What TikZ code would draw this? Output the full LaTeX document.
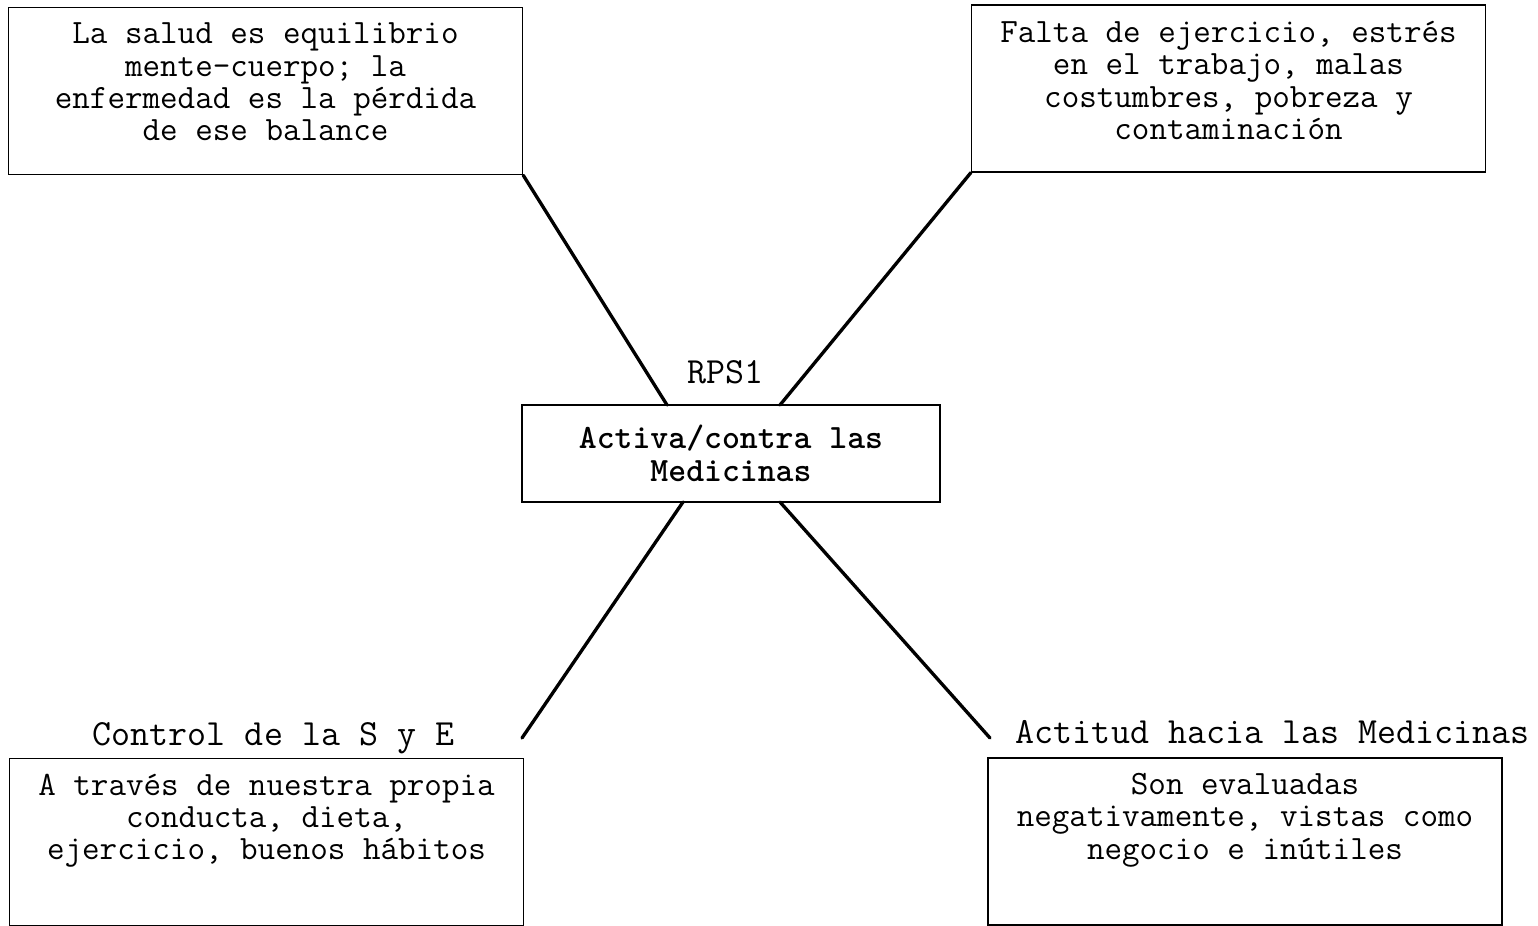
\documentclass[tikz,border=0pt]{standalone}
\usepackage{fontspec}
\usetikzlibrary{positioning}

\begin{document}
\begin{tikzpicture}[x=0.02cm, y=-0.02cm,
    box/.style={draw, line width=0.9pt, inner sep=0pt,
        minimum width=10.28cm, minimum height=3.34cm},
    boxtext/.style={inner sep=0pt, align=center,
        font=\ttfamily\fontsize{19.4}{18.3}\selectfont,
        execute at begin node=\strut},
    tag/.style={inner sep=0pt, anchor=base,
        font=\ttfamily\fontsize{21}{22}\selectfont},
    spoke/.style={draw, line width=1.9pt, line cap=round}
    ]
    \useasboundingbox (0,0) rectangle (1538,926);

    % Centre node
    \node[draw, line width=0.9pt, inner sep=0pt, minimum width=8.36cm,
        minimum height=1.94cm, align=center,
        font=\ttfamily\bfseries\fontsize{19.4}{18.7}\selectfont] (ctr) at (731,453.5)
        {Activa/contra las\\Medicinas};
    \node[tag] (rps) at (725,383) {RPS1};

    % Upper boxes
    \node[box] (tl) at (265.5,91) {};
    \node[boxtext, below=0.32cm of tl.north] (tltext)
        {La salud es equilibrio\\mente-cuerpo; la\\enfermedad es la pérdida\\de ese balance};
    \node[box] (tr) at (1228.5,88.5) {};
    \node[boxtext, below=0.34cm of tr.north] (trtext)
        {Falta de ejercicio, estrés\\en el trabajo, malas\\costumbres, pobreza y\\contaminación};

    % Lower boxes
    \node[box] (bl) at (266.5,842) {};
    \node[boxtext, below=0.32cm of bl.north] (bltext)
        {A través de nuestra propia\\conducta, dieta,\\ejercicio, buenos hábitos};
    \node[tag] (bltag) at (273.5,745) {Control de la S y E};
    \node[box] (br) at (1245,841.5) {};
    \node[boxtext, below=0.32cm of br.north] (brtext)
        {Son evaluadas\\negativamente, vistas como\\negocio e inútiles};
    \node[tag] (brtag) at (1272.5,743) {Actitud hacia las Medicinas};

    % Spokes
    \coordinate (ctrnw) at (667,405);
    \coordinate (ctrne) at (780,405);
    \coordinate (ctrsw) at (683,502);
    \coordinate (ctrse) at (780,502);
    \coordinate (blend) at (522,738);
    \coordinate (brend) at (990,738);
    \draw[spoke] (tl.south east) -- (ctrnw);
    \draw[spoke] (tr.south west) -- (ctrne);
    \draw[spoke] (ctrsw) -- (blend);
    \draw[spoke] (ctrse) -- (brend);
\end{tikzpicture}
\end{document}
